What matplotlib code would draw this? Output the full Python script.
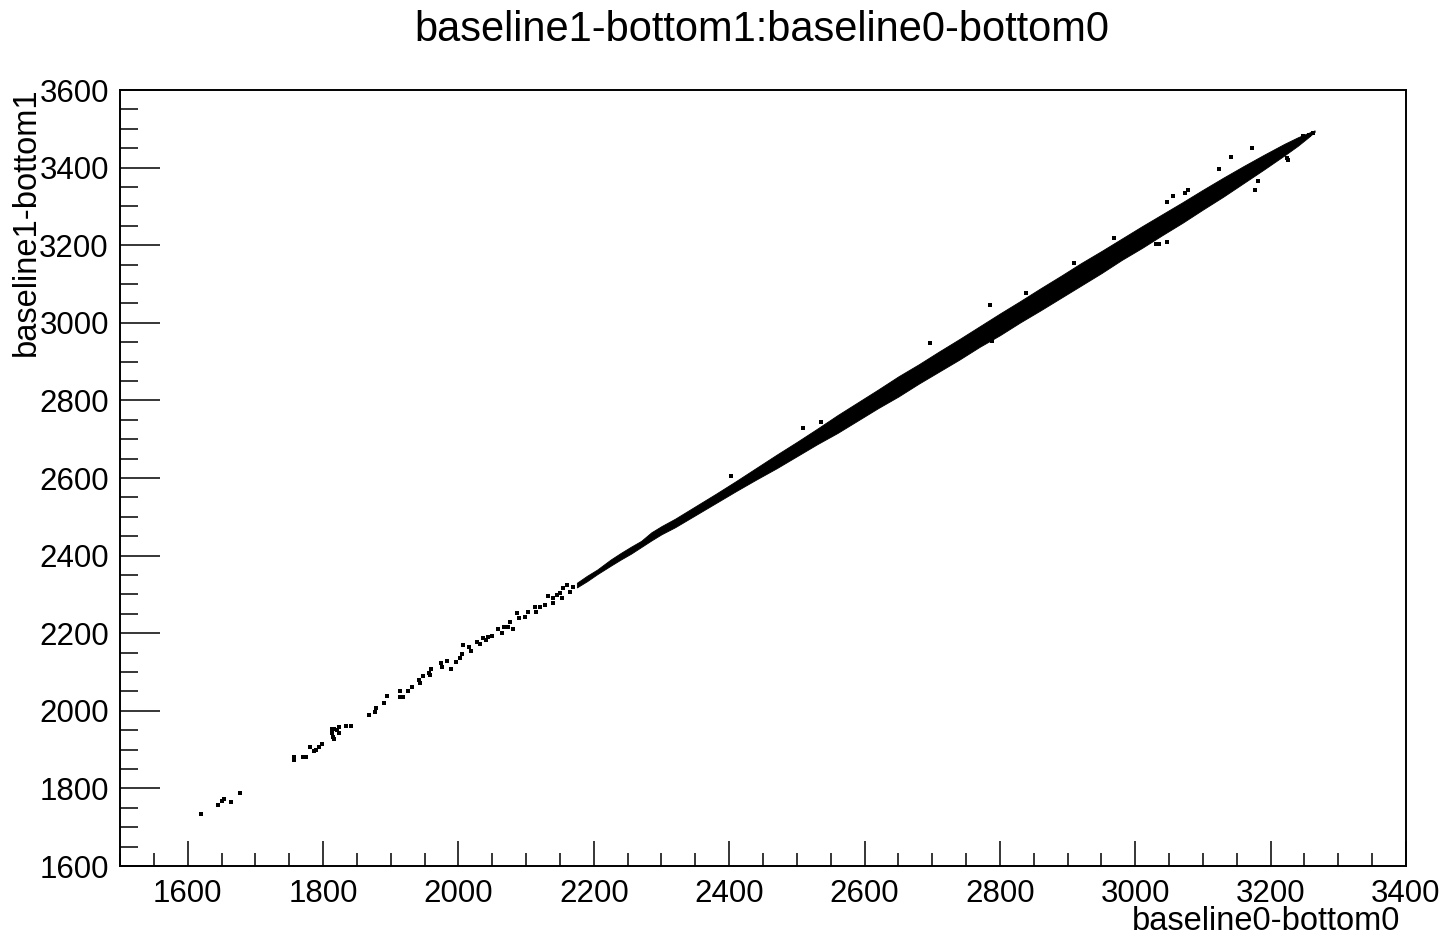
import numpy as np
import matplotlib
matplotlib.use("Agg")
import matplotlib.pyplot as plt
from matplotlib.ticker import MultipleLocator

plt.rcParams["font.family"] = ["Liberation Sans", "DejaVu Sans"]

# sparse low-end entries (baseline0-bottom0, baseline1-bottom1)
tail_x = [1619, 1645, 1650, 1654, 1664, 1677, 1757, 1757, 1771, 1775,
          1780, 1786, 1790, 1794, 1798, 1813, 1816, 1820, 1813, 1815,
          1816, 1824, 1824, 1834, 1842, 1868, 1877, 1878, 1890, 1895,
          1913, 1914, 1918, 1926, 1931, 1943, 1942, 1948, 1957, 1959,
          1958, 1975, 1974, 1983, 1989, 1997, 2002, 2005, 2007, 2016,
          2019, 2028, 2032, 2037, 2041, 2044, 2049, 2059, 2064, 2067,
          2073, 2076, 2080, 2087, 2090, 2098, 2103, 2113, 2115, 2120,
          2128, 2133, 2140, 2140, 2145, 2150, 2153, 2155, 2160, 2165, 2170]
tail_y = [1734, 1757, 1768, 1773, 1766, 1789, 1880, 1873, 1882, 1882,
          1906, 1897, 1899, 1907, 1914, 1952, 1952, 1950, 1942, 1933,
          1927, 1959, 1944, 1961, 1961, 1990, 1998, 2006, 2021, 2038,
          2052, 2036, 2036, 2051, 2061, 2071, 2079, 2090, 2098, 2107,
          2092, 2112, 2122, 2129, 2107, 2127, 2135, 2146, 2170, 2165,
          2155, 2178, 2172, 2187, 2182, 2191, 2193, 2210, 2201, 2215,
          2216, 2230, 2210, 2251, 2238, 2242, 2255, 2268, 2255, 2268,
          2273, 2296, 2292, 2277, 2298, 2303, 2290, 2316, 2324, 2307, 2320]

# isolated entries off the main band
out_x = [2402, 2438, 2509, 2536, 2696, 2785, 2789, 2839, 2909, 2968,
         2986, 3031, 3035, 3047, 3047, 3056, 3073, 3078, 3123, 3141,
         3172, 3177, 3181, 3224, 3226, 3248, 3257, 3262]
out_y = [2605, 2599, 2729, 2745, 2947, 3047, 2954, 3078, 3155, 3218,
         3175, 3202, 3202, 3209, 3312, 3327, 3335, 3342, 3396, 3428,
         3451, 3342, 3365, 3425, 3419, 3481, 3484, 3490]

# dense band: lower / upper edge of the populated region
band_x = [2175, 2190, 2205, 2225, 2240, 2255, 2270,
          2285, 2300, 2320, 2350, 2380, 2410, 2440,
          2470, 2500, 2530, 2560, 2590, 2620, 2650, 2680, 2710, 2740,
          2770, 2800, 2830, 2860, 2890, 2920, 2950, 2980, 3010, 3040,
          3070, 3100, 3130, 3160, 3190, 3220, 3240, 3255, 3265]
band_lo = [2318, 2334, 2352, 2374, 2390, 2405, 2422,
           2439, 2455, 2473, 2504, 2535, 2566, 2596,
           2625, 2656, 2687, 2716, 2748, 2780, 2810, 2843, 2874, 2905,
           2938, 2968, 3001, 3032, 3064, 3096, 3128, 3162, 3193, 3226,
           3258, 3292, 3325, 3360, 3395, 3431, 3456, 3477, 3492]
band_hi = [2330, 2348, 2364, 2390, 2407, 2423, 2438,
           2460, 2476, 2495, 2527, 2559, 2592, 2626,
           2660, 2693, 2727, 2762, 2795, 2828, 2862, 2893, 2926, 2958,
           2991, 3024, 3056, 3089, 3121, 3154, 3185, 3217, 3249, 3280,
           3311, 3343, 3374, 3404, 3433, 3461, 3478, 3489, 3496]

fig = plt.figure(figsize=(14.51, 9.42), dpi=100)
ax = fig.add_axes([120 / 1451, 1 - 866 / 942, 1286 / 1451, 776 / 942])

ax.fill_between(band_x, band_lo, band_hi, color="black", lw=0.6,
                edgecolor="black")
ax.scatter(tail_x, tail_y, s=6, marker="s", color="black", linewidths=0)
ax.scatter(out_x, out_y, s=6, marker="s", color="black", linewidths=0)

ax.set_xlim(1500, 3400)
ax.set_ylim(1600, 3600)

ax.xaxis.set_major_locator(MultipleLocator(200))
ax.xaxis.set_minor_locator(MultipleLocator(50))
ax.yaxis.set_major_locator(MultipleLocator(200))
ax.yaxis.set_minor_locator(MultipleLocator(50))

ax.tick_params(axis="both", which="both", direction="in",
               top=False, right=False, width=1.1, labelsize=22.5)
ax.tick_params(axis="x", which="major", length=18, pad=9)
ax.tick_params(axis="x", which="minor", length=9.5)
ax.tick_params(axis="y", which="major", length=29, pad=8)
ax.tick_params(axis="y", which="minor", length=13)
for sp in ax.spines.values():
    sp.set_linewidth(1.4)

fig.text(762 / 1451, 1 - 10 / 942, "baseline1-bottom1:baseline0-bottom0",
         ha="center", va="top", fontsize=30)
fig.text(1400 / 1451, 1 - 906 / 942, "baseline0-bottom0",
         ha="right", va="top", fontsize=23.5)
fig.text(26 / 1451, 1 - 87 / 942, "baseline1-bottom1",
         ha="center", va="top", rotation=90, fontsize=23.5)

fig.savefig("out.png", dpi=100)
